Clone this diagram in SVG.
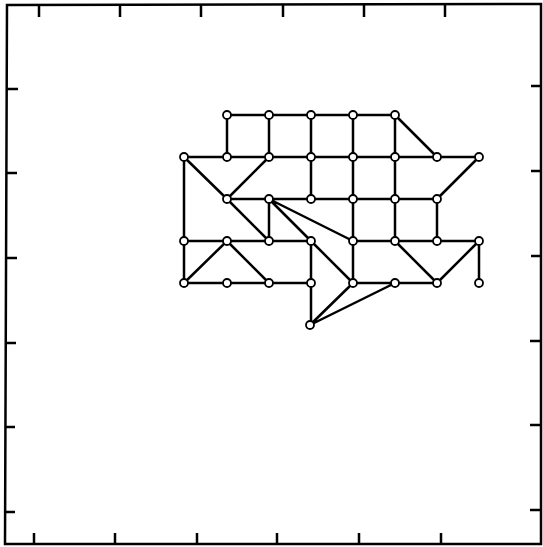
<svg xmlns="http://www.w3.org/2000/svg" width="543" height="547" viewBox="0 0 543 547">
<style>
.frame{fill:none;stroke:#000;stroke-width:2.5}
.tick{stroke:#000;stroke-width:2.5}
.edge{stroke:#000;stroke-width:2.5;stroke-linecap:round}
.node circle{fill:#fff;stroke:#000;stroke-width:1.8}
</style>
<rect width="543" height="547" fill="#fff"/>
<g id="frame">
<path class="frame" d="M7,5 L541,4 L541,544 L5,544 Z"/>
<path class="tick" d="M39,5V17 M120,5V17 M201,5V17 M283,5V17 M364,5V17 M445,5V17 M34,544V533 M115,544V533 M197,544V533 M277,544V533 M359,544V533 M441,544V533 M7,89H18 M7,173H17 M6,258H17 M6,343H16 M5,427H15 M5,512H15 M541,86H531 M541,171H531 M541,256H531 M541,341H530 M541,425H530 M541,510H530"/>
</g>
<g id="connectors" class="edge">
<path d="M227,115H395 M227,115V157 M269,115V157 M311,115V157 M353,115V157 M395,115V157 M395,115L437,157 M184,157H479 M184,157V241 M184,157L227,199 M269,157L227,199 M311,157V199 M353,157V199 M395,157V199 M479,157L437,199 M227,199H437 M227,199L269,241 M269,199V241 M269,199L311,241 M269,199L353,241 M353,199V241 M395,199V241 M437,199V241 M184,241H311 M353,241H479 M184,241V283 M227,241L184,283 M227,241L269,283 M311,241V325 M311,241L353,283 M353,241V283 M395,241L437,283 M479,241L437,283 M479,241V283 M184,283H311 M353,283H437 M310,325L353,283 M310,325L395,283" fill="none" stroke="#000"/>
</g>
<g class="node">
<g id="n0_1"><circle cx="227" cy="115" r="4"/></g>
<g id="n0_2"><circle cx="269" cy="115" r="4"/></g>
<g id="n0_3"><circle cx="311" cy="115" r="4"/></g>
<g id="n0_4"><circle cx="353" cy="115" r="4"/></g>
<g id="n0_5"><circle cx="395" cy="115" r="4"/></g>
<g id="n1_0"><circle cx="184" cy="157" r="4"/></g>
<g id="n1_1"><circle cx="227" cy="157" r="4"/></g>
<g id="n1_2"><circle cx="269" cy="157" r="4"/></g>
<g id="n1_3"><circle cx="311" cy="157" r="4"/></g>
<g id="n1_4"><circle cx="353" cy="157" r="4"/></g>
<g id="n1_5"><circle cx="395" cy="157" r="4"/></g>
<g id="n1_6"><circle cx="437" cy="157" r="4"/></g>
<g id="n1_7"><circle cx="479" cy="157" r="4"/></g>
<g id="n2_1"><circle cx="227" cy="199" r="4"/></g>
<g id="n2_2"><circle cx="269" cy="199" r="4"/></g>
<g id="n2_3"><circle cx="311" cy="199" r="4"/></g>
<g id="n2_4"><circle cx="353" cy="199" r="4"/></g>
<g id="n2_5"><circle cx="395" cy="199" r="4"/></g>
<g id="n2_6"><circle cx="437" cy="199" r="4"/></g>
<g id="n3_0"><circle cx="184" cy="241" r="4"/></g>
<g id="n3_1"><circle cx="227" cy="241" r="4"/></g>
<g id="n3_2"><circle cx="269" cy="241" r="4"/></g>
<g id="n3_3"><circle cx="311" cy="241" r="4"/></g>
<g id="n3_4"><circle cx="353" cy="241" r="4"/></g>
<g id="n3_5"><circle cx="395" cy="241" r="4"/></g>
<g id="n3_6"><circle cx="437" cy="241" r="4"/></g>
<g id="n3_7"><circle cx="479" cy="241" r="4"/></g>
<g id="n4_0"><circle cx="184" cy="283" r="4"/></g>
<g id="n4_1"><circle cx="227" cy="283" r="4"/></g>
<g id="n4_2"><circle cx="269" cy="283" r="4"/></g>
<g id="n4_3"><circle cx="311" cy="283" r="4"/></g>
<g id="n4_4"><circle cx="353" cy="283" r="4"/></g>
<g id="n4_5"><circle cx="395" cy="283" r="4"/></g>
<g id="n4_6"><circle cx="437" cy="283" r="4"/></g>
<g id="n4_7"><circle cx="479" cy="283" r="4"/></g>
<g id="n5_3"><circle cx="310" cy="325" r="4"/></g>
</g>
</svg>
